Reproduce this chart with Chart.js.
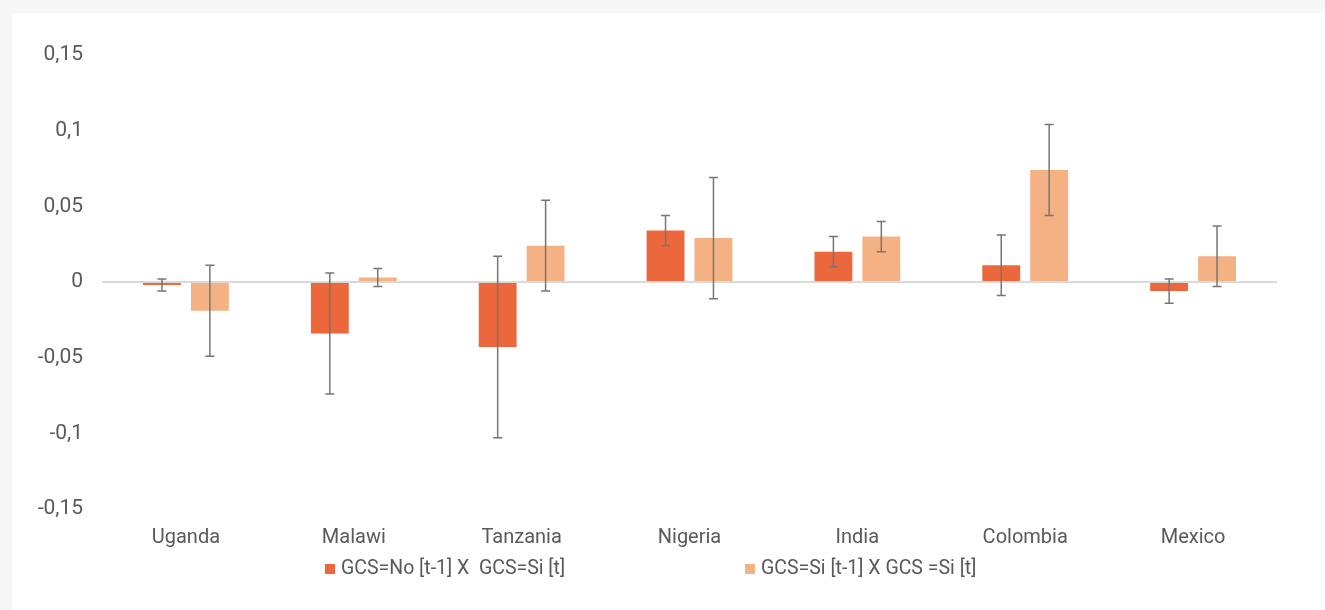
<!DOCTYPE html>
<html>
<head>
<meta charset="utf-8">
<script src="https://cdn.jsdelivr.net/npm/chart.js@4"></script>
<style>
  html, body { margin: 0; padding: 0; background: #f7f7f7; }
  body { width: 1325px; height: 610px; position: relative; overflow: hidden; font-family: Roboto, "Noto Sans", sans-serif; }
  #panel { position: absolute; left: 12px; top: 13px; right: 0; bottom: 0; background: #fff; }
  #wrap { position: absolute; left: 0; top: 0; width: 1325px; height: 610px; }
  .leg { position: absolute; top: 556px; height: 24px; line-height: 24px; font-size: 19.5px; color: #595959; white-space: pre; }
  .leg i { display: inline-block; width: 10px; height: 10px; margin-right: 6px; vertical-align: 0px; }
</style>
</head>
<body>
<div id="panel"></div>
<div id="wrap"><canvas id="chart"></canvas></div>
<div class="leg" style="left:325px"><i style="background:#ec673b"></i>GCS=No [t-1] X  GCS=Si [t]</div>
<div class="leg" style="left:745px"><i style="background:#f4b183"></i>GCS=Si [t-1] X GCS =Si [t]</div>
<script>
// --- datos ---
const countries = ['Uganda', 'Malawi', 'Tanzania', 'Nigeria', 'India', 'Colombia', 'Mexico'];
const seriesNames = ['GCS=No [t-1] X  GCS=Si [t]', 'GCS=Si [t-1] X GCS =Si [t]'];
const noToSi = [-0.002, -0.034, -0.043, 0.034, 0.020, 0.011, -0.006];
const noToSiErr = [0.004, 0.040, 0.060, 0.010, 0.010, 0.020, 0.008];
const siToSi = [-0.019, 0.003, 0.024, 0.029, 0.030, 0.074, 0.017];
const siToSiErr = [0.030, 0.006, 0.030, 0.040, 0.010, 0.030, 0.020];
const yTicks = [-0.15, -0.1, -0.05, 0, 0.05, 0.1, 0.15];
const yTickLabels = ['-0,15', '-0,1', '-0,05', '0', '0,05', '0,1', '0,15'];

const errors = [noToSiErr, siToSiErr];

// barras de error dibujadas sobre cada barra
const errorBars = {
    id: 'errorBars',
    afterDatasetsDraw(chart) {
        const ctx = chart.ctx, y = chart.scales.y;
        ctx.save();
        ctx.strokeStyle = '#767676';
        ctx.lineWidth = 1.5;
        chart.data.datasets.forEach((ds, di) => {
            chart.getDatasetMeta(di).data.forEach((bar, i) => {
                const v = ds.data[i], e = errors[di][i];
                const top = y.getPixelForValue(v + e), bot = y.getPixelForValue(v - e);
                ctx.beginPath();
                ctx.moveTo(bar.x, top); ctx.lineTo(bar.x, bot);
                ctx.moveTo(bar.x - 4.5, top); ctx.lineTo(bar.x + 4.5, top);
                ctx.moveTo(bar.x - 4.5, bot); ctx.lineTo(bar.x + 4.5, bot);
                ctx.stroke();
            });
        });
        ctx.restore();
    }
};

new Chart(document.getElementById('chart').getContext('2d'), {
    type: 'bar',
    data: {
        labels: countries,
        datasets: [
            { label: seriesNames[0], data: noToSi, backgroundColor: '#ec673b', categoryPercentage: 0.571, barPercentage: 0.79 },
            { label: seriesNames[1], data: siToSi, backgroundColor: '#f4b183', categoryPercentage: 0.571, barPercentage: 0.79 }
        ]
    },
    plugins: [errorBars],
    options: {
        responsive: true, maintainAspectRatio: false, animation: false,
        layout: { padding: { left: 12, right: 48, top: 55, bottom: 60 } },
        plugins: { legend: { display: false }, tooltip: { enabled: false } },
        scales: {
            x: {
                grid: { display: false, drawTicks: false },
                border: { display: false },
                ticks: { color: '#595959', font: { family: 'Roboto', size: 20 }, padding: 17 },
                afterFit: s => { s.height = 41; }
            },
            y: {
                min: -0.15, max: 0.15,
                afterBuildTicks: s => { s.ticks = yTicks.map(v => ({ value: v })); },
                afterFit: s => { s.width = 90; },
                border: { display: false },
                grid: {
                    drawTicks: false,
                    color: c => c.tick && c.tick.value === 0 ? '#d9d9d9' : 'rgba(0,0,0,0)',
                    lineWidth: 2
                },
                ticks: {
                    color: '#595959', font: { family: 'Roboto', size: 21 }, padding: 19,
                    callback: (v, i) => yTickLabels[i]
                }
            }
        }
    }
});
</script>
</body>
</html>
